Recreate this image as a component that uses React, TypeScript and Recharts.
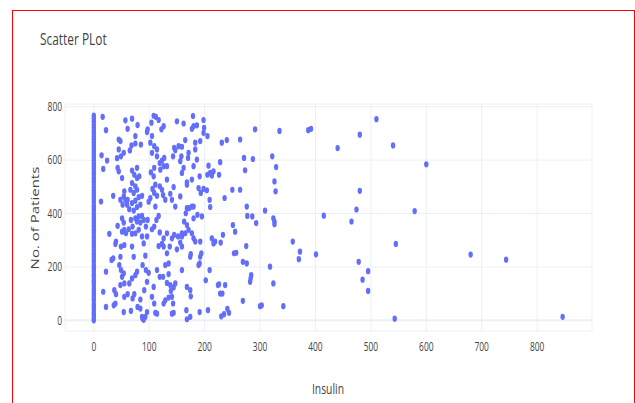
import { ScatterChart, Scatter, XAxis, YAxis, CartesianGrid, ReferenceLine } from "recharts";

const X_TICKS = [0, 100, 200, 300, 400, 500, 600, 700, 800];
const Y_TICKS = [0, 200, 400, 600, 800];

// patients with insulin = 0 (the solid column at x=0)
const zeroInsulinPatients = [
  0, 9, 21, 30, 42, 52, 61, 75, 84, 96, 107, 118, 130, 141, 150, 163, 172, 185, 196, 205,
  218, 229, 240, 251, 262, 275, 285, 297, 308, 317, 330, 341, 352, 363, 375, 386, 397, 410,
  421, 430, 443, 454, 465, 476, 487, 498, 510, 521, 532, 544, 553, 566, 577, 588, 599, 611,
  622, 633, 644, 655, 667, 678, 689, 700, 710, 722, 733, 745, 756, 767,
];

// [insulin, patient]
const lowInsulin = [
  [16, 762], [22, 712], [14, 618], [24, 598], [17, 567], [13, 445], [28, 324], [22, 182], [17, 107], [22, 50],
  [35, 466], [43, 354], [40, 295], [39, 286], [32, 226], [35, 232], [37, 113], [40, 98], [39, 63], [45, 677],
  [48, 671], [45, 640], [43, 571], [45, 558], [42, 607], [49, 614], [54, 627], [57, 749], [61, 717], [51, 533],
  [54, 464], [57, 451], [48, 451], [52, 433], [60, 433], [55, 483], [51, 382], [54, 366], [55, 339], [51, 332],
  [58, 326], [49, 276], [55, 282], [48, 238], [46, 207], [49, 188], [54, 176], [51, 163], [55, 138], [48, 132],
  [61, 98], [55, 88], [54, 31], [67, 35], [36, 56],
];

const insulin60to100 = [
  [69, 755], [79, 731], [75, 690], [68, 655], [75, 662], [65, 636], [85, 658], [78, 571], [69, 561], [73, 545],
  [78, 533], [69, 514], [82, 539], [66, 489], [75, 502], [78, 489], [72, 477], [61, 451], [69, 439], [75, 448],
  [81, 461], [87, 466], [64, 416], [72, 411], [78, 424], [84, 433], [67, 376], [75, 382], [81, 389], [87, 391],
  [90, 376], [84, 366], [78, 370], [70, 351], [63, 341], [69, 324], [75, 326], [81, 339], [87, 314], [96, 314],
  [69, 276], [72, 238], [78, 182], [75, 169], [69, 157], [64, 138], [73, 98], [70, 82], [79, 50], [84, 44],
  [88, 6], [93, 13], [90, 2], [87, 13], [96, 31], [84, 78], [91, 113], [96, 144], [99, 178], [94, 188],
  [88, 207], [93, 242], [90, 288], [94, 351], [97, 376],
];

const insulin100to160 = [
  [108, 766], [112, 762], [117, 750], [126, 727], [122, 715], [104, 740], [96, 705], [97, 715], [105, 690], [102, 665],
  [109, 652], [114, 640], [105, 627], [127, 608], [123, 598], [119, 589], [114, 614], [109, 571], [120, 564], [126, 577],
  [132, 577], [143, 614], [147, 637], [153, 652], [145, 646], [159, 650], [158, 614], [156, 596], [103, 554], [108, 539],
  [111, 508], [106, 492], [109, 477], [114, 466], [102, 458], [99, 444], [123, 489], [119, 502], [132, 527], [125, 469],
  [129, 451], [138, 474], [144, 499], [141, 451], [147, 426], [111, 426], [117, 391], [113, 376], [109, 351], [105, 341],
  [119, 329], [126, 307], [132, 326], [123, 286], [117, 278], [126, 276], [132, 251], [137, 276], [141, 307], [145, 320],
  [152, 314], [159, 326], [156, 291], [150, 266], [135, 213], [129, 207], [114, 188], [119, 163], [125, 163], [135, 173],
  [132, 140], [138, 132], [144, 123], [139, 110], [147, 138], [141, 88], [129, 75], [135, 85], [143, 63], [144, 28],
  [141, 25], [111, 28], [114, 25], [126, 63], [108, 125], [105, 88], [109, 63],
];

const insulin150to210 = [
  [150, 745], [162, 737], [179, 765], [180, 727], [177, 717], [186, 730], [198, 750], [199, 721], [198, 702], [205, 690],
  [192, 671], [183, 665], [165, 675], [171, 627], [170, 608], [183, 640], [186, 602], [180, 577], [162, 571], [159, 552],
  [168, 517], [177, 527], [156, 464], [168, 508], [191, 539], [189, 495], [198, 492], [193, 477], [168, 420], [172, 420],
  [177, 426], [180, 426], [166, 401], [180, 382], [187, 395], [195, 389], [163, 370], [168, 357], [171, 339], [165, 326],
  [159, 314], [177, 326], [180, 307], [183, 295], [192, 295], [194, 251], [192, 238], [191, 213], [189, 207], [174, 238],
  [175, 248], [159, 276], [159, 188], [168, 125], [174, 113], [175, 90], [167, 38], [174, 13], [191, 31], [206, 38],
  [202, 150], [209, 188], [168, 4],
];

const insulin200to400 = [
  [207, 579], [210, 552], [213, 542], [216, 558], [205, 545], [209, 451], [210, 424], [204, 487], [226, 545], [228, 592],
  [231, 665], [240, 675], [264, 677], [271, 608], [273, 562], [287, 604], [291, 715], [335, 709], [236, 458], [250, 489],
  [264, 489], [276, 426], [277, 391], [286, 389], [293, 364], [309, 411], [275, 278], [276, 213], [269, 219], [284, 169],
  [283, 157], [282, 144], [318, 201], [324, 138], [233, 320], [229, 291], [219, 295], [216, 288], [213, 307], [226, 135],
  [224, 132], [228, 100], [232, 100], [237, 132], [230, 15], [235, 23], [241, 43], [244, 28], [253, 251], [257, 253],
  [251, 357], [255, 332], [269, 73], [300, 53], [303, 56], [342, 53], [322, 614], [329, 574], [326, 520], [328, 483],
  [324, 382], [326, 370], [326, 360], [359, 295], [372, 257], [370, 229], [387, 712], [392, 717],
];

const highInsulin = [
  [401, 247], [510, 753], [480, 695], [440, 645], [540, 655], [600, 584], [480, 485], [474, 415], [415, 392], [465, 370],
  [579, 409], [545, 286], [478, 219], [495, 184], [485, 152], [495, 110], [680, 246], [744, 227], [543, 6], [846, 13],
];

const points = [
  ...zeroInsulinPatients.map((p) => [0, p]),
  ...lowInsulin,
  ...insulin60to100,
  ...insulin100to160,
  ...insulin150to210,
  ...insulin200to400,
  ...highInsulin,
].map(([insulin, patient]) => ({ insulin, patient }));

const FONT = "'Open Sans', 'Noto Sans', sans-serif";
const TEXT = "#444";

const Dot = (props: any) => (
  <ellipse cx={props.cx} cy={props.cy} rx={2.2} ry={3.1} fill="#636efa" />
);

const XTick = ({ x, y, payload }: any) => (
  <g transform={`translate(${x},${y})`}>
    <text transform="scale(0.7,1)" textAnchor="middle" dy="0.71em" fill={TEXT} fontSize={12} fontFamily={FONT}>
      {payload.value}
    </text>
  </g>
);

const YTick = ({ x, y, payload }: any) => (
  <g transform={`translate(${x},${y})`}>
    <text transform="scale(0.7,1)" textAnchor="end" dy="0.355em" fill={TEXT} fontSize={12} fontFamily={FONT}>
      {payload.value}
    </text>
  </g>
);

export default function App() {
  return (
    <div style={{ position: "absolute", left: 0, top: 0, width: 635, height: 403, overflow: "hidden", background: "#fff" }}>
      <div style={{ position: "absolute", left: 12, top: 10, width: 621, height: 420, border: "1px solid #f00" }} />
      <div
        style={{
          position: "absolute", left: 40, top: 29, fontSize: 17, lineHeight: "20px", color: TEXT,
          fontFamily: FONT, transform: "scaleX(0.7)", transformOrigin: "left top", whiteSpace: "nowrap",
        }}
      >
        Scatter PLot
      </div>
      <ScatterChart width={635} height={403} margin={{ top: 104, right: 43, bottom: 42, left: 1 }}>
        <CartesianGrid stroke="#ebf0f8" strokeWidth={1} />
        <XAxis
          type="number"
          dataKey="insulin"
          domain={[-52, 899]}
          ticks={X_TICKS}
          axisLine={false}
          tickLine={false}
          tickSize={0}
          tickMargin={11}
          height={30}
          tick={<XTick />}
          allowDataOverflow
        />
        <YAxis
          type="number"
          dataKey="patient"
          domain={[-40, 810]}
          ticks={Y_TICKS}
          axisLine={false}
          tickLine={false}
          tickSize={0}
          tickMargin={3}
          width={64}
          tick={<YTick />}
          allowDataOverflow
        />
        <ReferenceLine y={0} stroke="#ebf0f8" strokeWidth={2} />
        <Scatter data={points} shape={<Dot />} isAnimationActive={false} />
      </ScatterChart>
      <div
        style={{
          position: "absolute", left: 228, width: 200, top: 381, textAlign: "center", fontSize: 14,
          lineHeight: "16px", color: TEXT, fontFamily: FONT, transform: "scaleX(0.74)",
        }}
      >
        Insulin
      </div>
      <div
        style={{
          position: "absolute", left: 35 - 70, width: 140, top: 208, height: 20, textAlign: "center",
          fontSize: 15, lineHeight: "20px", color: TEXT, fontFamily: FONT,
          transform: "scaleX(0.7) rotate(-90deg)", whiteSpace: "nowrap",
        }}
      >
        No. of Patients
      </div>
    </div>
  );
}
